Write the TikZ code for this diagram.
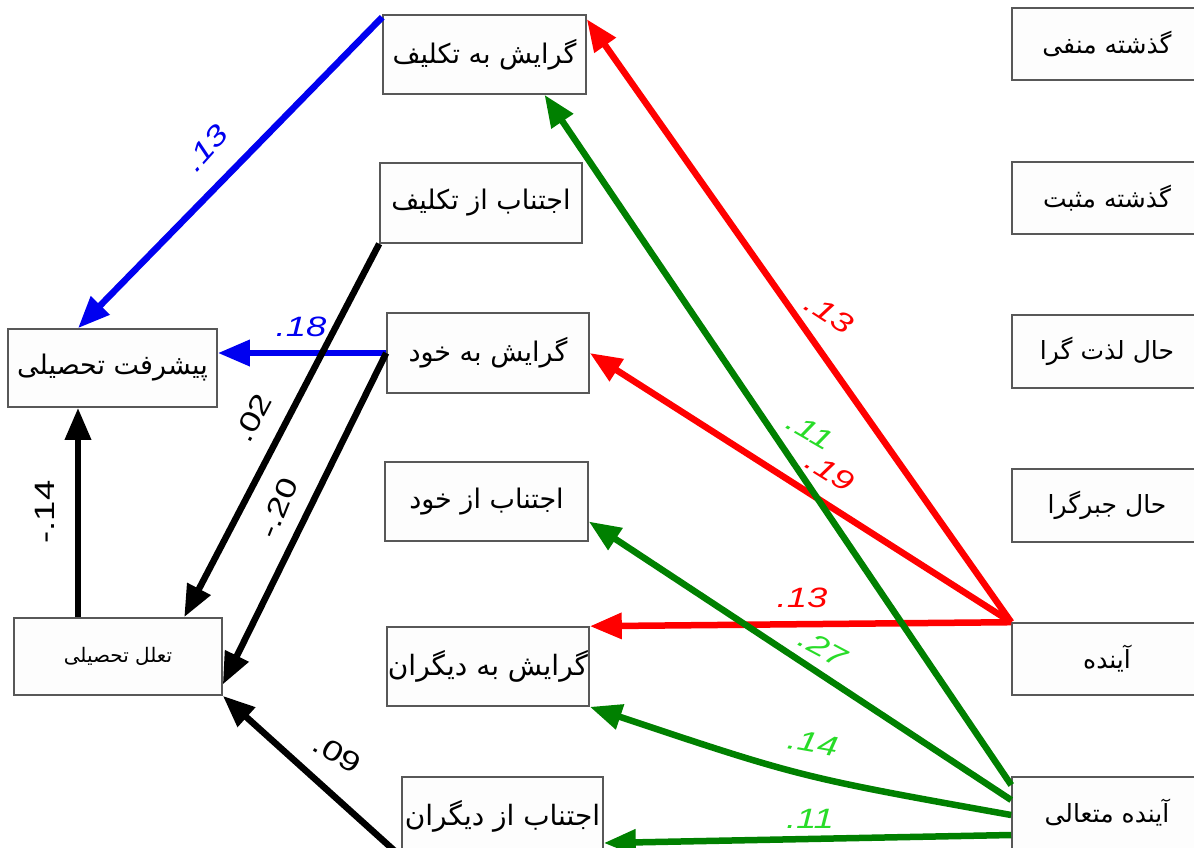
\documentclass[tikz,border=0pt]{standalone}
\usepackage{graphicx}
\usepackage{fontspec}
\setmainfont{Liberation Sans}
\newfontfamily\fa[Script=Arabic]{DejaVu Sans}
\TeXXeTstate=1
\usetikzlibrary{arrows.meta,calc}
\definecolor{bxline}{RGB}{88,88,88}
\definecolor{bxfill}{RGB}{253,253,253}
\definecolor{arrred}{RGB}{255,0,0}
\definecolor{arrgreen}{RGB}{0,128,0}
\definecolor{labgreen}{RGB}{40,220,40}
\definecolor{arrblue}{RGB}{0,0,240}
\newcommand\fat[2][27]{\makebox[0pt]{\fontsize{#1}{#1}\fa\beginR #2\endR}}
\newcommand\stretched[1]{\scalebox{1.3}[1]{#1}}
\begin{document}
\begin{tikzpicture}[x=1pt,y=-1pt,
  box/.style={draw=bxline,line width=1.6pt,fill=bxfill,inner sep=0pt,minimum width=#1},
  conn/.style={line width=6.5pt,-{Triangle[length=32pt,width=25pt]}},
  barr/.style={conn,draw=arrblue},
  rarr/.style={conn,draw=arrred},
  garr/.style={conn,draw=arrgreen},
  karr/.style={conn,draw=black},
  lab/.style={inner sep=0pt,font=\fontsize{28}{28}\selectfont},
  clab/.style={lab,font=\fontsize{28}{28}\selectfont\itshape}]
\useasboundingbox (0,0) rectangle (1194,847);
\fill[white] (0,0) rectangle (1194,847);
% right column
\node[box=190,minimum height=72] (gm) at (1107,44) {\fat[25]{گذشته منفی}};
\node[box=190,minimum height=72] (gp) at (1107,198) {\fat[25]{گذشته مثبت}};
\node[box=190,minimum height=73] (hl) at (1107,351.5) {\fat[25]{حال لذت گرا}};
\node[box=190,minimum height=73] (hj) at (1107,505.5) {\fat[25]{حال جبرگرا}};
\node[box=190,minimum height=72] (ay) at (1107,659) {\fat[25]{آینده}};
\node[box=190,minimum height=72] (am) at (1107,813) {\fat[25]{آینده متعالی}};
% middle column
\node[box=203,minimum height=79] (gt) at (484.5,54.5) {\fat{گرایش به تکلیف}};
\node[box=202,minimum height=80] (et) at (481,203) {\fat{اجتناب از تکلیف}};
\node[box=202,minimum height=80] (gk) at (488,353) {\fat{گرایش به خود}};
\node[box=203,minimum height=79] (ek) at (486.5,501.5) {\fat{اجتناب از خود}};
\node[box=202,minimum height=79] (gd) at (488,666.5) {\fat[28]{گرایش به دیگران}};
\node[box=201,minimum height=79] (ed) at (502.5,816.5) {\fat[28]{اجتناب از دیگران}};
% left column
\node[box=209,minimum height=78] (pt) at (112.5,368) {\fat{پیشرفت تحصیلی}};
\node[box=208,minimum height=77] (tt) at (118,656.5) {\fat[20]{تعلل تحصیلی}};
% blue
\draw[barr] ($(gt.north west)+(0,3)$) -- ($(pt.north)+(-34.5,0)$);
\draw[barr] (gk.west) -- (gk.west -| pt.east);
% black
\draw[karr] (et.south west) -- ($(tt.north west)+(171,0)$);
\draw[karr] (gk.west) -- ($(tt.east)+(0,28)$);
\draw[karr] (ed.south west) -- (tt.south east);
\draw[karr] ($(tt.north)+(-40,0)$) -- ($(pt.south)+(-34.5,0)$);
% red
\draw[rarr] (ay.north west) -- ($(gt.north east)+(0,5)$);
\draw[rarr] (ay.north west) -- (gk.east);
\draw[rarr] (ay.north west) -- (gd.north east);
% green
\draw[garr] ($(am.west)+(0,-28)$) -- ($(gt.south)+(60,0)$);
\draw[garr] ($(am.west)+(0,-13)$) -- ($(ek.east)+(0,20)$);
\draw[garr] ($(am.west)+(0,2)$) .. controls (800,777) .. (gd.south east);
\draw[garr] ($(am.west)+(0,22)$) -- ($(ed.east)+(0,26.5)$);
% labels
\node[clab,text=arrblue,rotate=48] (l1) at (206,148) {\stretched{.13}};
\node[clab,text=arrblue] (l2) at (301,327) {\stretched{.18}};
\node[lab,rotate=62] (l3) at (253,418) {\stretched{.02}};
\node[lab,rotate=68] (l4) at (278,508) {\stretched{-.20}};
\node[lab,rotate=90] (l5) at (45,512) {\stretched{-.14}};
\node[lab,rotate=-30] (l6) at (337,754) {\stretched{.09}};
\node[clab,text=arrred,rotate=-33] (l7) at (829,314) {\stretched{.13}};
\node[clab,text=arrred,rotate=-32] (l8) at (830,472) {\stretched{.19}};
\node[clab,text=arrred] (l9) at (802,598) {\stretched{.13}};
\node[clab,text=labgreen,rotate=-30] (l10) at (810,431) {\stretched{.11}};
\node[clab,text=labgreen,rotate=-28] (l11) at (823,648) {\stretched{.27}};
\node[clab,text=labgreen,rotate=-10] (l12) at (813,743) {\stretched{.14}};
\node[clab,text=labgreen] (l13) at (810,819) {\stretched{.11}};
\end{tikzpicture}
\end{document}
